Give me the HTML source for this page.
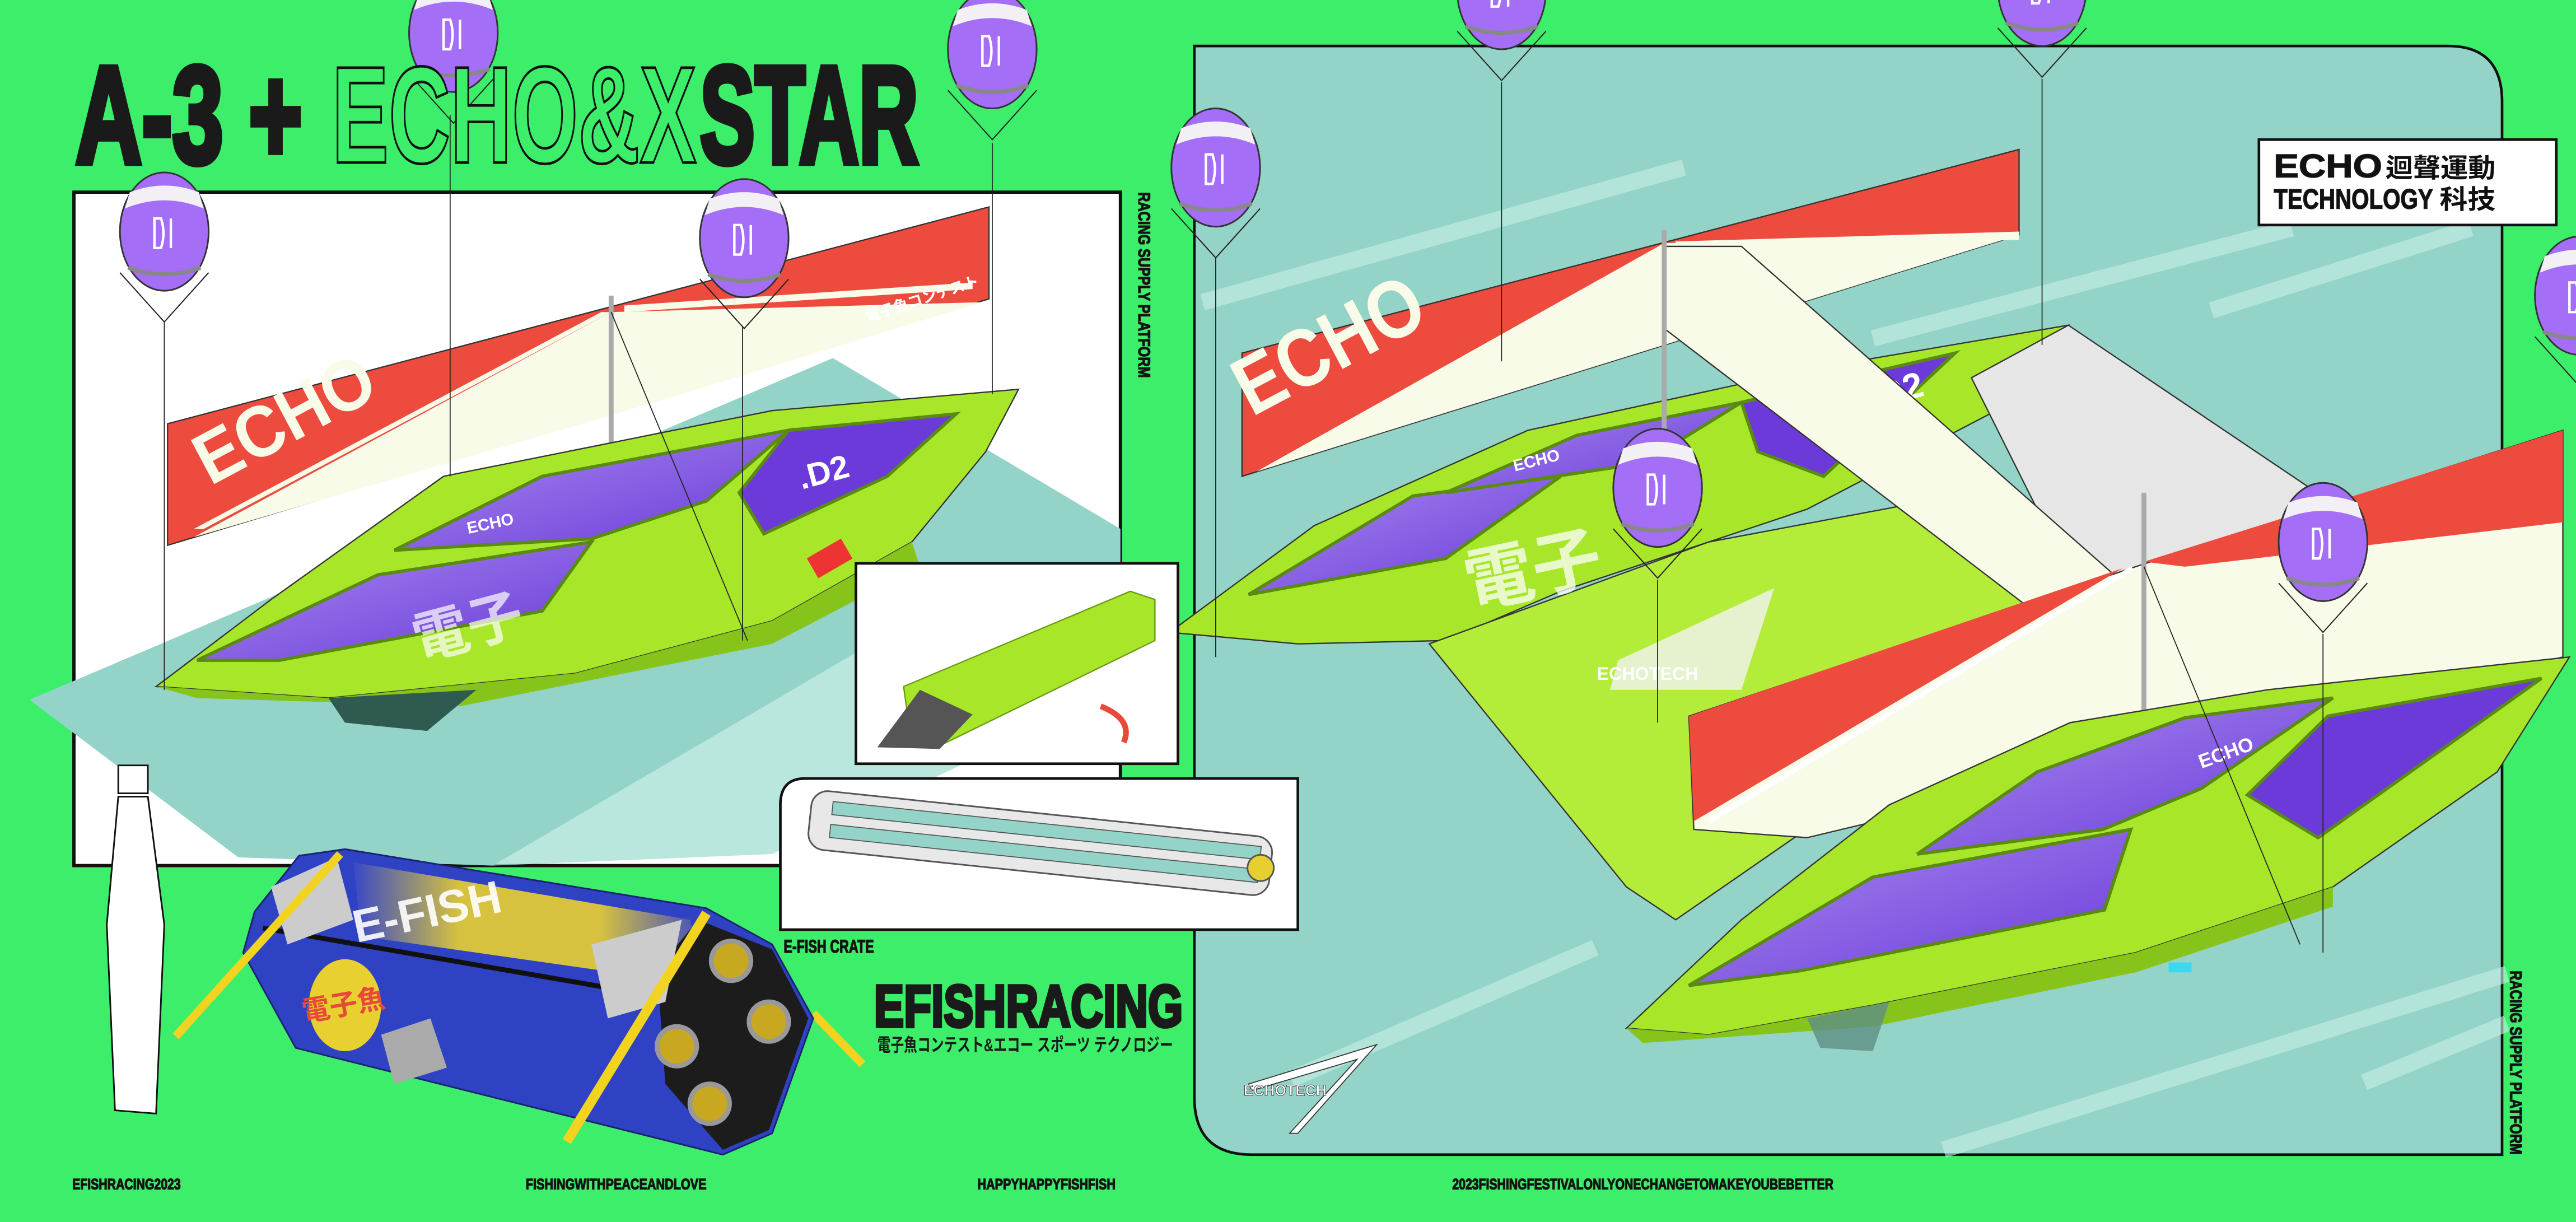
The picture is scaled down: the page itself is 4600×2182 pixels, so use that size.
<!DOCTYPE html>
<html><head><meta charset="utf-8"><style>
html,body{margin:0;padding:0;background:#3CEE6A;}
svg{display:block}
text{font-family:"Liberation Sans Narrow","Liberation Sans","Noto Sans CJK JP",sans-serif;font-weight:bold}
.hv{stroke:#1a1a1a;stroke-width:.5}
</style></head><body>
<svg width="4600" height="2182" viewBox="0 0 1568 744" preserveAspectRatio="none" xmlns="http://www.w3.org/2000/svg">
<defs>
<linearGradient id="yel" x1="0" y1="0" x2="1" y2="0"><stop offset="0" stop-color="#3a49c8"/><stop offset=".3" stop-color="#e8d030"/><stop offset=".7" stop-color="#e8d030"/><stop offset="1" stop-color="#3a49c8"/></linearGradient>
<linearGradient id="pur" x1="0" y1="0" x2="1" y2="1"><stop offset="0" stop-color="#a889f0"/><stop offset="1" stop-color="#6a3ad8"/></linearGradient>
<g id="bal">
<path d="M-27,25 L0,55 L27,25" fill="none" stroke="#222" stroke-width=".7"/>
<ellipse cx="0" cy="0" rx="27" ry="36" fill="#a46ef6" stroke="#333" stroke-width="1"/>
<path d="M-24,-14 Q0,-24 24,-14 L21,-24 Q0,-32 -21,-24 Z" fill="#f2f0f4"/>
<path d="M-22,22 Q0,30 22,22" fill="none" stroke="#888" stroke-width="2.5"/>
<path d="M-6,-8 v18 h4 q3,-9 0,-18 z M4,-8 v18" fill="none" stroke="#fff" stroke-width="1.5"/>
</g>
</defs>
<rect width="1568" height="744" fill="#3CEE6A"/>

<!-- right panel -->
<path d="M727,28 H1490 Q1523,28 1523,62 V703 H762 Q727,703 727,668 Z" fill="#94D4C8" stroke="#111" stroke-width="1.6"/>
<g stroke="#c8f0e6" stroke-width="10" opacity=".6">
<line x1="732" y1="184" x2="1025" y2="102"/><line x1="1140" y1="206" x2="1395" y2="139"/><line x1="1346" y1="189" x2="1504" y2="139"/>
<line x1="786" y1="657" x2="971" y2="577"/><line x1="1183" y1="700" x2="1526" y2="593"/><line x1="1439" y1="659" x2="1526" y2="623"/>
</g>

<!-- left panel -->
<rect x="45" y="117" width="637" height="410" fill="#fff" stroke="#111" stroke-width="2"/>
<polygon points="18,426 507,218 682,322 682,345 520,398 300,527 145,522" fill="#94D4C8"/>
<polygon points="520,398 682,345 682,420 470,520 300,527" fill="#a8e0d4" opacity=".8"/>

<!-- left banner -->
<polygon points="102,258 602,126 602,182 102,332" fill="#EE4B3F" stroke="#333" stroke-width=".8"/>
<polygon points="118,327 372,190 598,184 372,253" fill="#f8fbe8"/>
<polygon points="118,322 366,190 372,190 124,322" fill="#f8fbe8"/>
<polygon points="380,186 592,172 592,176 380,190" fill="#f8fbe8"/>
<text x="128" y="296" font-size="44" fill="#f8fbe8" transform="rotate(-28 128 296)" textLength="118" lengthAdjust="spacingAndGlyphs">ECHO</text>
<text x="528" y="196" font-size="9" fill="#fff" transform="rotate(-18 528 196)">電子魚コンテスト</text>
<line x1="372" y1="180" x2="372" y2="292" stroke="#aaa" stroke-width="3"/>

<!-- left boat -->
<polygon points="95,418 165,365 270,290 470,250 620,237 600,275 555,330 470,378 350,410 200,425" fill="#A8E62A" stroke="#333" stroke-width=".8"/>
<polygon points="95,418 200,425 350,410 470,378 555,330 560,345 470,392 280,430 120,425" fill="#86c41c"/>
<polygon points="200,425 290,420 260,445 210,440" fill="#2e5a50"/>
<polygon points="240,335 330,290 480,262 430,305 360,328" fill="url(#pur)" stroke="#5a8a10" stroke-width="2"/>
<polygon points="450,300 480,262 582,252 540,290 465,325" fill="#6b3ad8" stroke="#5a8a10" stroke-width="2"/>
<polygon points="120,402 230,350 360,330 330,372 170,402" fill="url(#pur)" stroke="#5a8a10" stroke-width="2"/>
<text x="285" y="325" font-size="10" fill="#fff" transform="rotate(-12 285 325)">ECHO</text>
<text x="488" y="298" font-size="20" fill="#fff" transform="rotate(-15 488 298)">.D2</text>
<text x="255" y="402" font-size="34" fill="#fff" opacity=".7" font-family="Noto Sans CJK JP" transform="rotate(-15 255 402)">電子</text>
<rect x="493" y="333" width="24" height="14" fill="#e33" transform="rotate(-30 505 340)"/>

<!-- right upper banner -->
<polygon points="756,215 1229,91 1229,143 756,290" fill="#EE4B3F" stroke="#333" stroke-width=".8"/>
<polygon points="765,287 1013,148 1229,143 1013,210" fill="#f8fbe8"/>
<polygon points="1020,147 1229,141 1229,146 1020,152" fill="#f8fbe8"/>
<text x="762" y="254" font-size="50" fill="#f8fbe8" transform="rotate(-28 762 254)" textLength="124" lengthAdjust="spacingAndGlyphs">ECHO</text>

<!-- right upper boat -->
<polygon points="712,385 800,320 930,262 1100,225 1259,198 1215,250 1100,310 950,360 880,390 790,392" fill="#A8E62A" stroke="#333" stroke-width=".8"/>
<polygon points="760,362 860,302 950,290 880,340" fill="url(#pur)" stroke="#5a8a10" stroke-width="2"/>
<polygon points="880,300 960,265 1060,245 1000,282" fill="url(#pur)" stroke="#5a8a10" stroke-width="2"/>
<polygon points="1060,245 1190,215 1110,290 1070,275" fill="#6b3ad8" stroke="#5a8a10" stroke-width="2"/>
<text x="922" y="287" font-size="10" fill="#fff" transform="rotate(-14 922 287)">ECHO</text>
<text x="1145" y="248" font-size="22" fill="#fff" transform="rotate(-15 1145 248)">D2</text>
<!-- platform -->
<polygon points="1200,230 1259,198 1440,320 1400,362 1320,395 1250,330" fill="#e6e6e6" stroke="#333" stroke-width=".8"/>
<polygon points="870,392 1040,330 1200,300 1300,400 1150,470 1020,560 990,540" fill="#b4ec3a" stroke="#333" stroke-width=".8"/>
<polygon points="985,402 1080,358 1060,420 980,420" fill="#f2f2f2" opacity=".8"/>
<text x="972" y="414" font-size="11" fill="#fff">ECHOTECH</text>
<text x="895" y="370" font-size="42" fill="#fff" opacity=".75" font-family="Noto Sans CJK JP" transform="rotate(-12 895 370)">電子</text>
<polygon points="1013,150 1060,150 1330,388 1290,412 1013,200" fill="#f8fbe8" stroke="#333" stroke-width=".8"/>
<line x1="1013" y1="140" x2="1013" y2="300" stroke="#aaa" stroke-width="3"/>

<!-- lower right banner -->
<polygon points="1028,436 1300,345 1560,262 1560,400 1100,510 1031,505" fill="#f8fbe8" stroke="#333" stroke-width=".8"/>
<polygon points="1028,436 1292,346 1031,500" fill="#EE4B3F"/>
<polygon points="1305,342 1560,262 1560,318 1330,345" fill="#EE4B3F"/>
<line x1="1040" y1="500" x2="1298" y2="346" stroke="#fff" stroke-width="3"/>
<line x1="1305" y1="300" x2="1305" y2="450" stroke="#aaa" stroke-width="3"/>

<!-- lower boat -->
<polygon points="990,626 1060,560 1150,490 1260,440 1380,420 1564,400 1520,470 1420,540 1300,580 1140,612 1040,630" fill="#A8E62A" stroke="#333" stroke-width=".8"/>
<polygon points="990,626 1040,630 1140,612 1300,580 1420,540 1420,552 1300,592 1140,625 1000,635" fill="#86c41c"/>
<polygon points="1100,620 1150,610 1140,640 1108,638" fill="#5e8f85" opacity=".8"/>
<polygon points="1167,520 1240,470 1330,437 1420,425 1340,480 1280,505" fill="url(#pur)" stroke="#5a8a10" stroke-width="2"/>
<polygon points="1028,600 1140,534 1297,505 1281,554 1096,591" fill="url(#pur)" stroke="#5a8a10" stroke-width="2"/>
<polygon points="1368,484 1417,436 1547,413 1411,510" fill="#6b3ad8" stroke="#5a8a10" stroke-width="2"/>
<text x="1340" y="468" font-size="12" fill="#fff" transform="rotate(-20 1340 468)">ECHO</text>
<rect x="1320" y="586" width="14" height="6" fill="#3cd8f0"/>

<!-- strings -->
<g stroke="#222" stroke-width=".6">
<line x1="100" y1="196" x2="100" y2="420"/><line x1="274" y1="70" x2="274" y2="290"/>
<line x1="452" y1="199" x2="452" y2="390"/><line x1="604" y1="87" x2="604" y2="240"/>
<line x1="740" y1="157" x2="740" y2="400"/><line x1="914" y1="50" x2="914" y2="220"/>
<line x1="1243" y1="48" x2="1243" y2="210"/><line x1="1009" y1="353" x2="1009" y2="440"/>
<line x1="1414" y1="386" x2="1414" y2="580"/>
<line x1="372" y1="190" x2="455" y2="390"/><line x1="1305" y1="345" x2="1400" y2="575"/>
</g>

<use href="#bal" x="100" y="141"/>
<use href="#bal" x="276" y="20"/>
<use href="#bal" x="453" y="145"/>
<use href="#bal" x="604" y="30"/>
<use href="#bal" x="740" y="102"/>
<use href="#bal" x="914" y="-6"/>
<use href="#bal" x="1243" y="-8"/>
<use href="#bal" x="1009" y="297"/>
<use href="#bal" x="1414" y="330"/>
<use href="#bal" x="1570" y="180"/>

<!-- ECHO box -->
<rect x="1375" y="85" width="181" height="52" fill="#fff" stroke="#111" stroke-width="1.6"/>
<text class="hv" x="1384" y="108" font-size="20" fill="#111" textLength="66" lengthAdjust="spacingAndGlyphs">ECHO</text>
<text x="1452" y="108" font-size="16" fill="#111" font-family="Noto Sans CJK TC" textLength="67" lengthAdjust="spacingAndGlyphs">迴聲運動</text>
<text class="hv" x="1384" y="127" font-size="17" fill="#111" textLength="97" lengthAdjust="spacingAndGlyphs">TECHNOLOGY</text>
<text x="1485" y="127" font-size="16" fill="#111" font-family="Noto Sans CJK TC" textLength="34" lengthAdjust="spacingAndGlyphs">科技</text>

<!-- ECHOTECH logo -->
<polygon points="760,660 838,636 790,690 785,690 826,645 762,664" fill="#fff" stroke="#333" stroke-width=".6"/>
<text x="757" y="667" font-size="9" fill="#fff" stroke="#333" stroke-width=".3">ECHOTECH</text>

<!-- title -->
<text x="46" y="99" font-size="84" fill="#1a1a1a" stroke="#1a1a1a" stroke-width="4" textLength="138" lengthAdjust="spacingAndGlyphs">A-3 +</text>
<text x="202" y="99" font-size="84" fill="#3CEE6A" stroke="#111" stroke-width="1.6" textLength="222" lengthAdjust="spacingAndGlyphs">ECHO&amp;X</text>
<text x="426" y="99" font-size="84" fill="#1a1a1a" stroke="#1a1a1a" stroke-width="4" textLength="133" lengthAdjust="spacingAndGlyphs">STAR</text>

<!-- vertical texts -->
<text class="hv" x="0" y="0" font-size="10" fill="#111" transform="translate(693,117) rotate(90)" textLength="113" lengthAdjust="spacingAndGlyphs">RACING SUPPLY PLATFORM</text>
<text class="hv" x="0" y="0" font-size="10" fill="#111" transform="translate(1528,591) rotate(90)" textLength="112" lengthAdjust="spacingAndGlyphs">RACING SUPPLY PLATFORM</text>

<!-- folding inset -->
<rect x="521" y="343" width="196" height="122" fill="#fff" stroke="#111" stroke-width="1.6"/>
<polygon points="550,418 688,360 703,365 703,390 570,455 552,432" fill="#A8E62A" stroke="#6a9a12" stroke-width=".8"/>
<polygon points="534,455 560,420 592,435 572,456" fill="#555"/>
<path d="M670,430 Q690,438 684,452" fill="none" stroke="#e84a3a" stroke-width="3.5"/>

<!-- crate panel -->
<path d="M490,474 H790 V566 H475 V490 Q475,474 490,474 Z" fill="#fff" stroke="#111" stroke-width="1.6"/>
<g transform="rotate(6 630 515)">
<rect x="492" y="495" width="282" height="36" rx="10" fill="#e8e8e8" stroke="#555" stroke-width="1"/>
<rect x="505" y="501" width="262" height="8" fill="#94D4C8" stroke="#555" stroke-width=".6"/>
<rect x="505" y="515" width="262" height="8" fill="#94D4C8" stroke="#555" stroke-width=".6"/>
<circle cx="768" cy="514" r="8" fill="#e6cf30" stroke="#555"/>
</g>
<text class="hv" x="477" y="580" font-size="11" fill="#111" textLength="55" lengthAdjust="spacingAndGlyphs">E-FISH CRATE</text>

<text x="532" y="625" font-size="36" fill="#1a1a1a" stroke="#1a1a1a" stroke-width="2" textLength="188" lengthAdjust="spacingAndGlyphs">EFISHRACING</text>
<text x="534" y="640" font-size="11" fill="#1a1a1a" font-family="Noto Sans CJK JP" textLength="180" lengthAdjust="spacingAndGlyphs">電子魚コンテスト&amp;エコー スポーツ テクノロジー</text>

<!-- pole shape -->
<path d="M72,466 L90,466 L90,483 L72,483 Z M72,485 L90,485 L100,563 L95,678 L70,676 L65,563 Z" fill="#fff" stroke="#111" stroke-width="1"/>

<!-- crate -->
<line x1="495" y1="617" x2="525" y2="648" stroke="#f2d420" stroke-width="5"/>
<polygon points="182,521 210,517 430,553 470,575 495,620 470,690 440,703 180,638 148,580 155,555" fill="#2f42c4" stroke="#1a2270" stroke-width="1"/>
<polygon points="215,525 420,560 430,600 220,570" fill="url(#yel)" opacity=".9"/>
<line x1="160" y1="565" x2="420" y2="610" stroke="#111" stroke-width="3"/>
<polygon points="425,560 470,578 492,620 468,688 440,700 405,660 400,590" fill="#1c1c1c"/>
<g fill="#c8a820" stroke="#999" stroke-width="3">
<circle cx="445" cy="585" r="12"/><circle cx="468" cy="622" r="12"/><circle cx="412" cy="637" r="12"/><circle cx="432" cy="672" r="12"/>
</g>
<text x="217" y="574" font-size="28" fill="#fff" opacity=".9" transform="rotate(-12 217 574)">E-FISH</text>
<ellipse cx="210" cy="612" rx="22" ry="28" fill="#e8d030"/>
<text x="185" y="622" font-size="17" fill="#e84a3a" font-family="Noto Sans CJK JP" transform="rotate(-10 185 622)">電子魚</text>
<polygon points="232,630 262,620 272,650 240,660" fill="#aaa"/>
<polygon points="165,540 205,522 215,560 175,575" fill="#ccc"/>
<polygon points="360,575 415,560 405,610 370,620" fill="#ccc"/>
<line x1="207" y1="520" x2="107" y2="631" stroke="#f2d420" stroke-width="5"/>
<line x1="430" y1="556" x2="345" y2="695" stroke="#f2d420" stroke-width="6"/>

<!-- footer -->
<g font-size="9" fill="#111" class="hv">
<text x="44" y="724" textLength="66" lengthAdjust="spacingAndGlyphs">EFISHRACING2023</text>
<text x="320" y="724" textLength="110" lengthAdjust="spacingAndGlyphs">FISHINGWITHPEACEANDLOVE</text>
<text x="595" y="724" textLength="84" lengthAdjust="spacingAndGlyphs">HAPPYHAPPYFISHFISH</text>
<text x="884" y="724" textLength="232" lengthAdjust="spacingAndGlyphs">2023FISHINGFESTIVALONLYONECHANGETOMAKEYOUBEBETTER</text>
</g>
</svg>
</body></html>
